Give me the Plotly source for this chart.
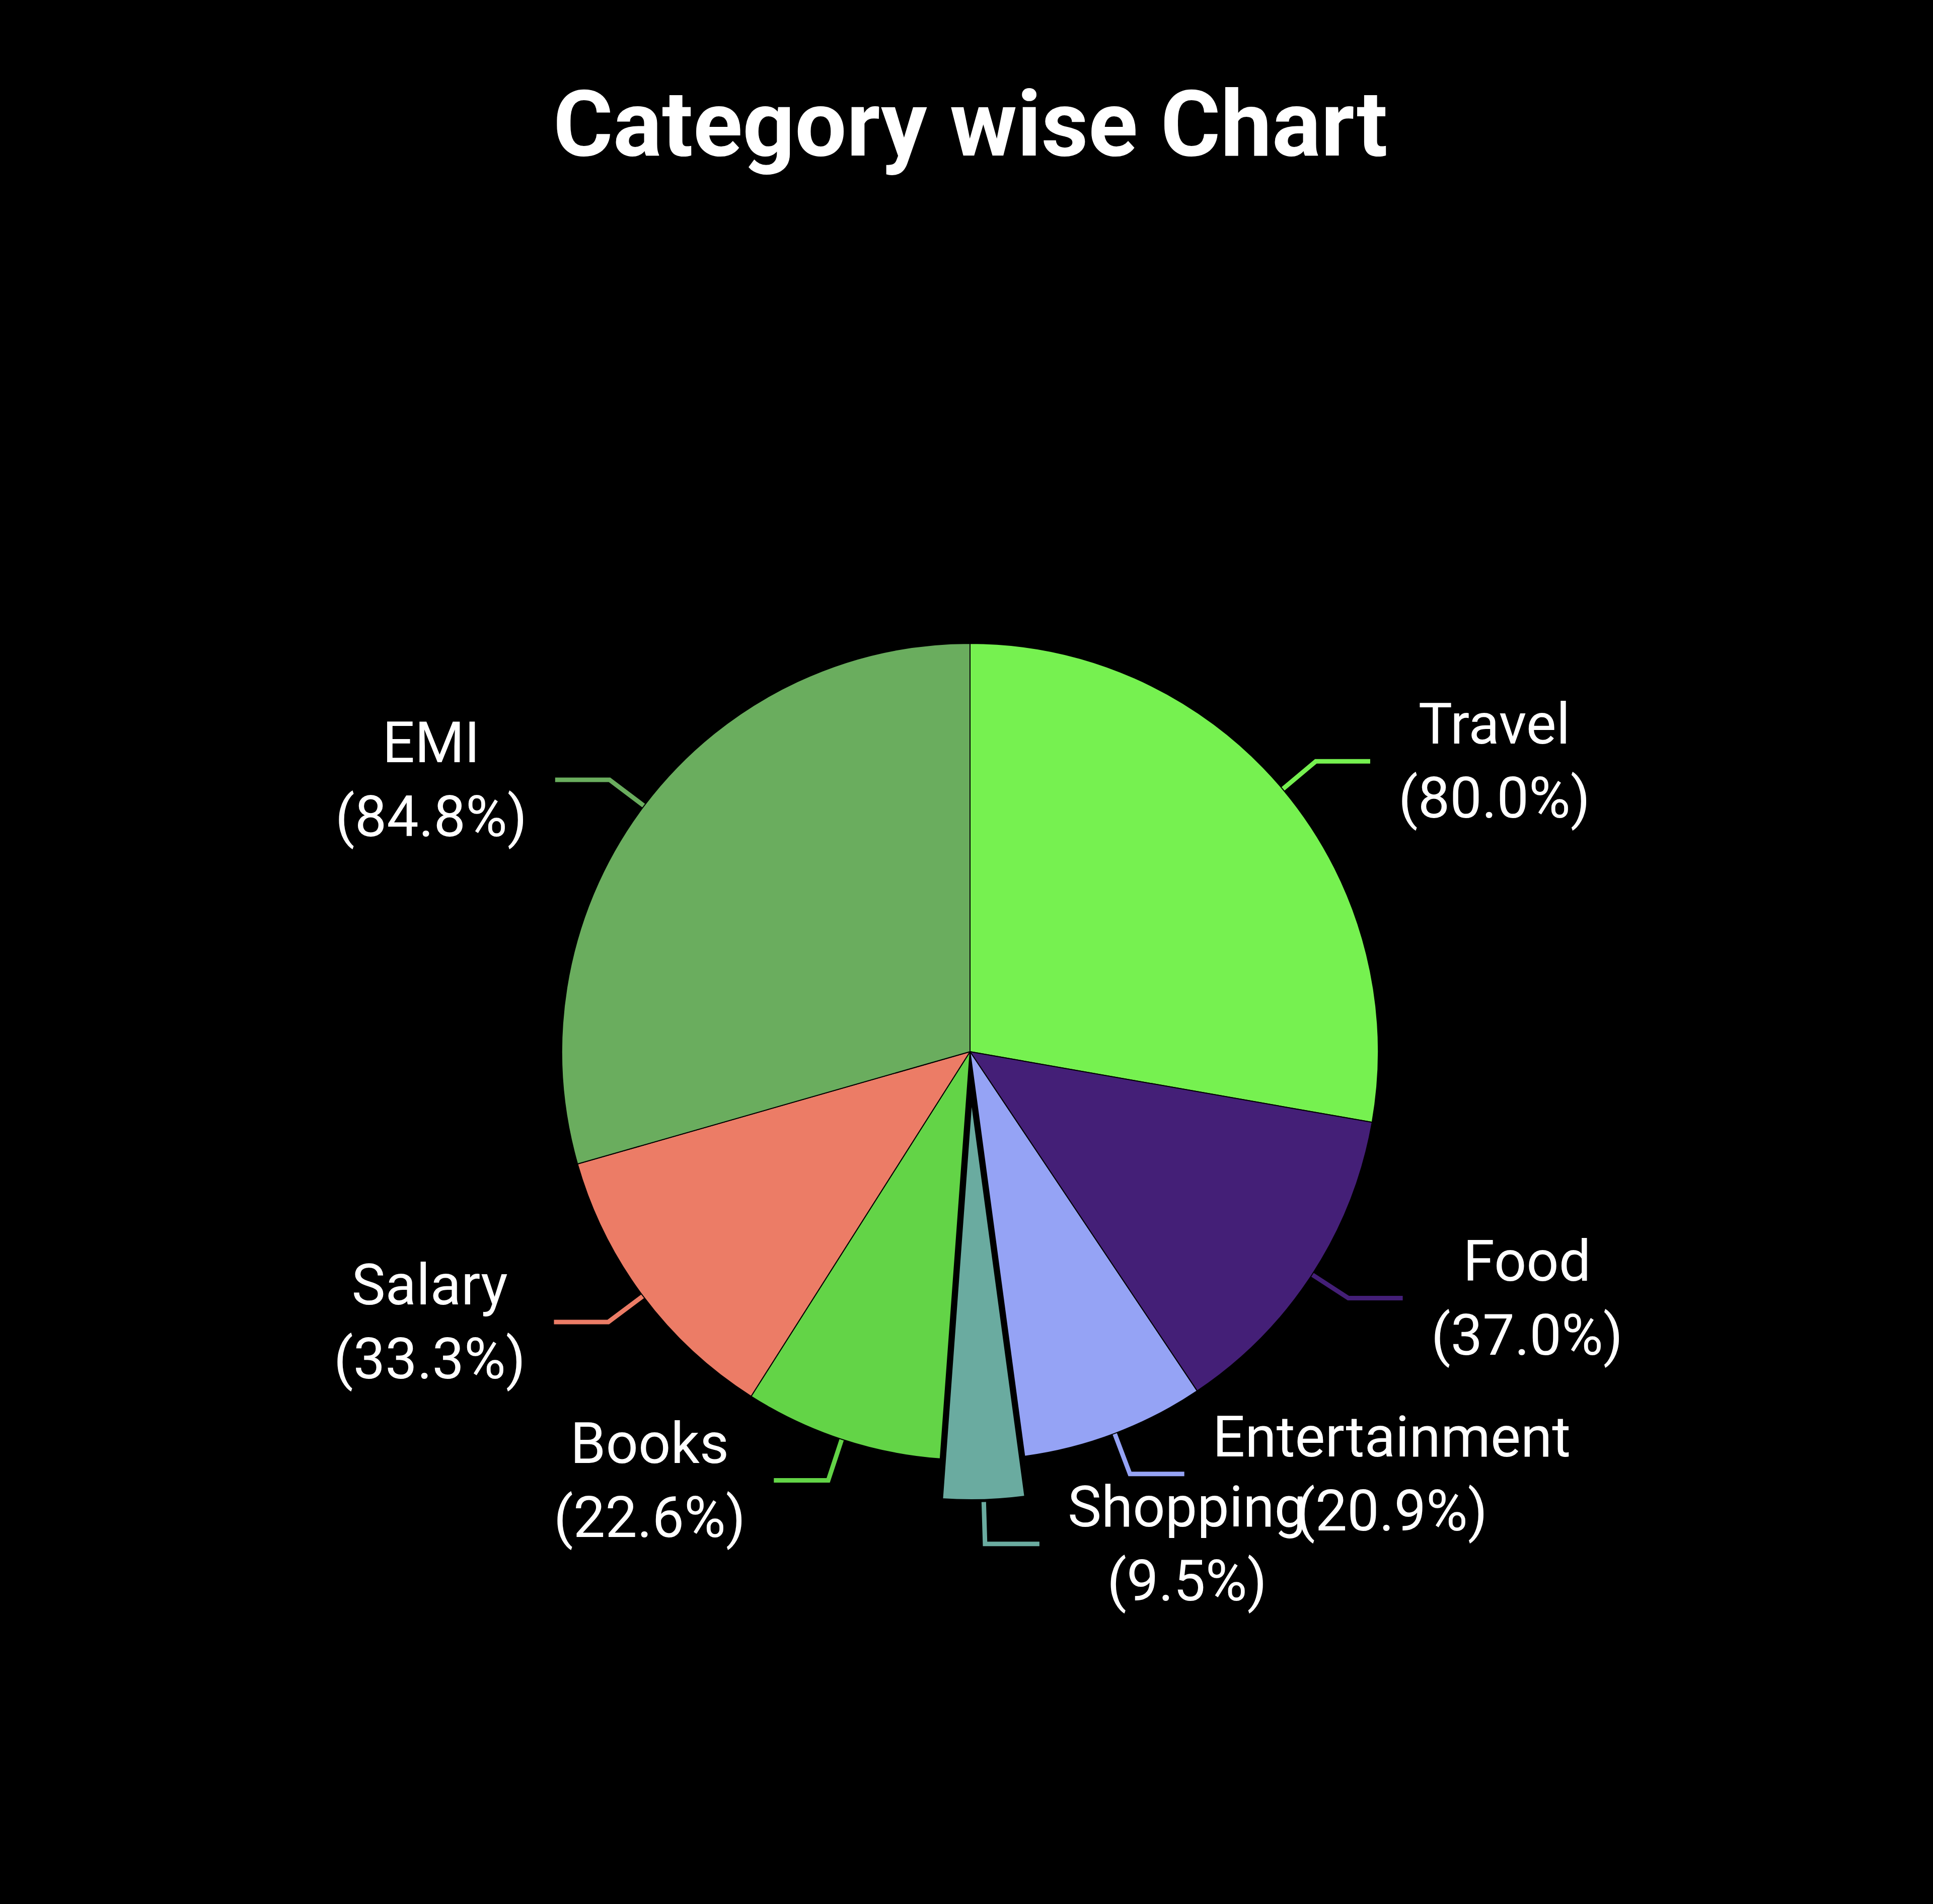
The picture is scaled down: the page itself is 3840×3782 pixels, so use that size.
import math
import plotly.graph_objects as go

# ---- data ----
categories = ["Travel", "Food", "Entertainment", "Shopping", "Books", "Salary", "EMI"]
values = [80.0, 37.0, 20.9, 9.5, 22.6, 33.3, 84.8]
colors = ["#76F150", "#441F77", "#95A3F5", "#6AABA0", "#63D447", "#EC7C66", "#6AAD5E"]
pulls = [0, 0, 0, 0.1, 0, 0, 0]
title_text = "Category wise Chart"

# ---- layout geometry (pixels) ----
W, H = 3840, 3782
CX, CY_TOP = 1927, 2089
R = 811
CY = H - CY_TOP
max_pull = max(pulls)
half = R * (1 + max_pull)

fig = go.Figure()

fig.add_trace(go.Pie(
    labels=categories,
    values=values,
    sort=False,
    direction="clockwise",
    rotation=0,
    pull=pulls,
    textinfo="none",
    hoverinfo="label+value",
    marker=dict(colors=colors,
                line=dict(color="#000000", width=[2, 2, 2, 6, 2, 2, 2])),
    domain=dict(x=[(CX - half) / W, (CX + half) / W],
                y=[(CY - half) / H, (CY + half) / H]),
    showlegend=False,
))

# leader lines and labels computed from the values
total = sum(values)
cum = 0.0
annotations = []
radial_len = 86
horiz_len = 108
gap = 54
for cat, val, col, p in zip(categories, values, colors, pulls):
    mid = (cum + val / 2) / total * 2 * math.pi
    cum += val
    sx, sy = math.sin(mid), math.cos(mid)
    ox, oy = CX + p * R * sx, CY + p * R * sy
    x0, y0 = ox + R * sx, oy + R * sy
    x1, y1 = ox + (R + radial_len) * sx, oy + (R + radial_len) * sy
    side = 1 if sx >= 0 else -1
    x2, y2 = x1 + side * horiz_len, y1
    fig.add_trace(go.Scatter(
        x=[x0, x1, x2], y=[y0, y1, y2], mode="lines",
        line=dict(color=col, width=9), hoverinfo="skip", showlegend=False,
    ))
    annotations.append(dict(
        x=x2 + side * gap, y=y2, xref="x", yref="y",
        text=f"{cat}<br>({val:.1f}%)", showarrow=False,
        xanchor="left" if side > 0 else "right", yanchor="middle", align="center",
        font=dict(family="Roboto", size=113, color="#FFFFFF"),
    ))

fig.update_layout(
    width=W, height=H,
    margin=dict(l=0, r=0, t=0, b=0),
    paper_bgcolor="#000000", plot_bgcolor="#000000",
    title=dict(text=f"<b>{title_text}</b>", x=0.502, xanchor="center",
               y=1 - 245 / H, yanchor="middle", yref="container",
               font=dict(family="Roboto", size=182, color="#FFFFFF")),
    xaxis=dict(range=[0, W], visible=False, domain=[0, 1], fixedrange=True),
    yaxis=dict(range=[0, H], visible=False, domain=[0, 1], fixedrange=True),
    annotations=annotations,
    showlegend=False,
)

fig.write_html("out.html")
